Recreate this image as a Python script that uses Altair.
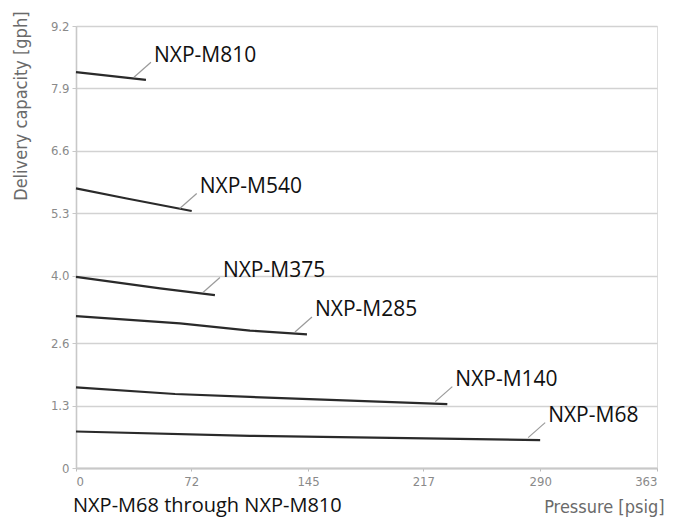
import altair as alt
import pandas as pd

# ---- data ----
series_names = ["NXP-M68", "NXP-M140", "NXP-M285", "NXP-M375", "NXP-M540", "NXP-M810"]
pressure = {
    "NXP-M68":  [0, 108.7, 290],
    "NXP-M140": [0, 61.9, 108.7, 232],
    "NXP-M285": [0, 65, 108.7, 144.3],
    "NXP-M375": [0, 52.5, 86.8],
    "NXP-M540": [0, 31.7, 72.3],
    "NXP-M810": [0, 43.7],
}
capacity = {
    "NXP-M68":  [0.76, 0.67, 0.58],
    "NXP-M140": [1.68, 1.54, 1.48, 1.33],
    "NXP-M285": [3.16, 3.01, 2.86, 2.78],
    "NXP-M375": [3.98, 3.74, 3.60],
    "NXP-M540": [5.82, 5.61, 5.35],
    "NXP-M810": [8.24, 8.08],
}
x_ticks = [0, 72, 145, 217, 290, 363]
y_ticks = [0, 1.3, 2.6, 4.0, 5.3, 6.6, 7.9, 9.2]
caption = "NXP-M68 through NXP-M810"

rows = []
for s in series_names:
    for i, (p, c) in enumerate(zip(pressure[s], capacity[s])):
        rows.append({"series": s, "pressure": p, "capacity": c, "order": i})
df = pd.DataFrame(rows)
ends = pd.DataFrame([
    {"series": s, "pressure": pressure[s][-1], "capacity": capacity[s][-1]}
    for s in series_names
])
cap_df = pd.DataFrame([{"text": caption}])

W, H = 581, 442
tick_font = "Liberation Sans Narrow, DejaVu Sans Condensed, sans-serif"
label_font = "Open Sans"

x_enc = alt.X("pressure:Q",
              scale=alt.Scale(domain=[0, 363], nice=False),
              axis=alt.Axis(values=x_ticks, title="Pressure [psig]", grid=False,
                            domainColor="#c8c8c8", domainWidth=2,
                            tickColor="#bbbbbb", tickSize=3, labelPadding=4,
                            labelFont=tick_font, labelFontSize=13, labelColor="#8a8a8a",
                            titleFont=tick_font, titleFontSize=18, titleColor="#6a6a6a",
                            titleFontWeight="normal", titleAlign="right",
                            titleBaseline="middle", titleX=588, titleY=39))
y_enc = alt.Y("capacity:Q",
              scale=alt.Scale(domain=[0, 9.2], nice=False),
              axis=alt.Axis(values=y_ticks,
                            labelExpr="datum.value == 0 ? '0' : format(datum.value, '.1f')",
                            title="Delivery capacity [gph]", grid=True,
                            gridColor="#d2d2d2", gridWidth=1.6,
                            domainColor="#c8c8c8", domainWidth=1.6,
                            tickColor="#c8c8c8", tickSize=4, labelPadding=3,
                            labelFont=tick_font, labelFontSize=13, labelColor="#8a8a8a",
                            titleFont=tick_font, titleFontSize=18, titleColor="#6a6a6a",
                            titleFontWeight="normal", titleAngle=-90, titleAlign="right",
                            titleBaseline="middle", titleX=-55, titleY=-15))

lines = alt.Chart(df).mark_line(color="#2a2a2a", strokeWidth=2.2).encode(
    x=x_enc, y=y_enc, detail="series:N", order="order:Q"
)

leaders = alt.Chart(ends).mark_point(
    shape="M-1.2,-0.25L0.5,-1.75", size=400, filled=False,
    stroke="#9a9a9a", strokeWidth=1.2, opacity=1
).encode(x="pressure:Q", y="capacity:Q")

labels = alt.Chart(ends).mark_text(
    align="left", baseline="middle", dx=8, dy=-24,
    font=label_font, fontSize=21, color="#111111"
).encode(x="pressure:Q", y="capacity:Q", text="series:N")

cap = alt.Chart(cap_df).mark_text(
    align="left", baseline="middle", font=label_font, fontSize=20, color="#111111"
).encode(x=alt.value(-3), y=alt.value(480), text="text:N")

chart = alt.layer(lines, leaders, labels, cap).properties(
    width=W, height=H,
    autosize=alt.AutoSizeParams(type="none"),
    padding={"left": 68, "top": 18, "right": 10, "bottom": 50},
).configure_view(strokeWidth=0).configure(background="white")

chart.save("out.html", embed_options={"renderer": "svg", "actions": False})
